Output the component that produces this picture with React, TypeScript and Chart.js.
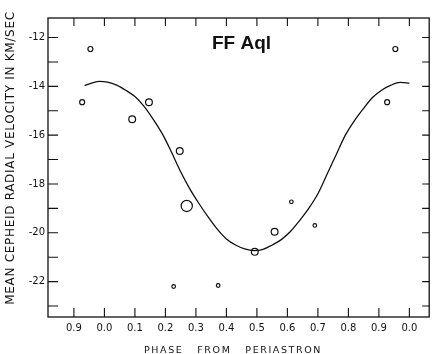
import React, { useEffect, useRef } from "react";
import { Chart, registerables } from "chart.js";

Chart.register(...registerables);

// ---- axis ranges and tick labels ----
const xRange = [-0.185, 1.065];
const yRange = [-23.45, -11.2];
const xTickValues = [-0.1, 0.0, 0.1, 0.2, 0.3, 0.4, 0.5, 0.6, 0.7, 0.8, 0.9, 1.0];
const xTickLabels = ["0.9", "0.0", "0.1", "0.2", "0.3", "0.4", "0.5", "0.6", "0.7", "0.8", "0.9", "0.0"];
const yTickValues = [-23, -22, -21, -20, -19, -18, -17, -16, -15, -14, -13, -12];
const yTickLabels = ["", "-22", "", "-20", "", "-18", "", "-16", "", "-14", "", "-12"];

// ---- observations (phase from periastron, mean cepheid radial velocity, weight class) ----
const obsPhase = [0.927, 0.954, 0.091, 0.146, 0.247, 0.270, 0.227, 0.373, 0.493, 0.558, 0.613, 0.690];
const obsVelocity = [-14.65, -12.47, -15.35, -14.65, -16.65, -18.9, -22.2, -22.16, -20.78, -19.96, -18.73, -19.7];
const obsWeight = [2, 2, 3, 3, 3, 4, 1, 1, 3, 3, 1, 1];

// ---- fitted orbit curve ----
const curvePhase = [-0.065, -0.04, -0.016, 0.01, 0.04, 0.07, 0.10, 0.13, 0.16, 0.19, 0.22, 0.25, 0.28, 0.31, 0.34, 0.37, 0.40, 0.43, 0.46, 0.49, 0.52, 0.55, 0.58, 0.61, 0.64, 0.67, 0.70, 0.73, 0.76, 0.79, 0.82, 0.85, 0.88, 0.91, 0.94, 0.97, 1.00];
const curveVelocity = [-13.97, -13.86, -13.80, -13.83, -13.95, -14.16, -14.42, -14.82, -15.35, -15.95, -16.70, -17.50, -18.20, -18.80, -19.35, -19.85, -20.25, -20.50, -20.66, -20.73, -20.68, -20.50, -20.28, -19.95, -19.50, -19.00, -18.40, -17.60, -16.80, -16.00, -15.40, -14.90, -14.45, -14.15, -13.95, -13.84, -13.87];

const starName = "FF Aql";
const xTitle = "PHASE   FROM   PERIASTRON";
const yTitle = "MEAN CEPHEID RADIAL VELOCITY IN KM/SEC";

const weightRadius: Record<number, number> = { 1: 1.8, 2: 2.5, 3: 3.4, 4: 5.6 };
const INK = "#111";

function findLabel(values: number[], labels: string[], v: number) {
  for (let k = 0; k < values.length; k++) if (Math.abs(values[k] - v) < 1e-6) return labels[k];
  return "";
}

const framePlugin = {
  id: "frameAndText",
  afterDraw(chart: any) {
    const { ctx, chartArea } = chart;
    const { left, right, top, bottom } = chartArea;
    const xs = chart.scales.x;
    const ys = chart.scales.y;
    ctx.save();
    ctx.strokeStyle = INK;
    ctx.lineWidth = 1.3;
    ctx.strokeRect(left, top, right - left, bottom - top);
    ctx.lineWidth = 1.1;
    ctx.beginPath();
    for (const t of xs.ticks) {
      const px = xs.getPixelForValue(t.value);
      ctx.moveTo(px, bottom);
      ctx.lineTo(px, bottom - 9);
      ctx.moveTo(px, top);
      ctx.lineTo(px, top + 8);
    }
    for (const t of ys.ticks) {
      const py = ys.getPixelForValue(t.value);
      ctx.moveTo(left, py);
      ctx.lineTo(left + 10, py);
      ctx.moveTo(right, py);
      ctx.lineTo(right - 7, py);
    }
    ctx.stroke();

    // star name
    ctx.fillStyle = INK;
    ctx.font = "bold 19px 'Liberation Sans', Arial, sans-serif";
    ctx.textAlign = "left";
    ctx.textBaseline = "alphabetic";
    ctx.fillText(starName, left + 164, top + 31);

    // x title
    (ctx as any).letterSpacing = "1.6px";
    ctx.font = "9.5px 'DejaVu Sans', sans-serif";
    ctx.textAlign = "center";
    ctx.fillText(xTitle, 233, 353);

    // y title
    (ctx as any).letterSpacing = "0.7px";
    ctx.font = "12px 'DejaVu Sans', sans-serif";
    ctx.translate(13.5, 158);
    ctx.rotate(-Math.PI / 2);
    ctx.textAlign = "center";
    ctx.fillText(yTitle, 0, 0);
    ctx.restore();
  },
};

export default function App() {
  const canvasRef = useRef<HTMLCanvasElement | null>(null);

  useEffect(() => {
    if (!canvasRef.current) return;

    const obsPoints: { x: number; y: number; w: number }[] = [];
    obsPhase.forEach((p, i) => {
      obsPoints.push({ x: p, y: obsVelocity[i], w: obsWeight[i] });
      if (p - 1 >= xRange[0]) obsPoints.push({ x: p - 1, y: obsVelocity[i], w: obsWeight[i] });
    });

    const tickFont = { family: "'DejaVu Sans', sans-serif", size: 10 };

    const chart = new Chart(canvasRef.current, {
      type: "line",
      data: {
        datasets: [
          {
            type: "line",
            label: "orbit",
            data: curvePhase.map((p, i) => ({ x: p, y: curveVelocity[i] })),
            borderColor: INK,
            borderWidth: 1.3,
            pointRadius: 0,
            cubicInterpolationMode: "monotone",
            fill: false,
          },
          {
            type: "scatter",
            label: "observations",
            data: obsPoints as any,
            showLine: false,
            pointRadius: (c: any) => weightRadius[(c.raw && c.raw.w) || 1],
            pointBackgroundColor: "#fff",
            pointBorderColor: INK,
            pointBorderWidth: 1.2,
          },
        ],
      },
      options: {
        responsive: false,
        animation: false,
        devicePixelRatio: 1,
        layout: { padding: { top: 18, right: 3, left: 0, bottom: 0 } },
        plugins: {
          legend: { display: false },
          tooltip: { enabled: false },
          title: { display: false },
        },
        scales: {
          x: {
            type: "linear",
            min: xRange[0],
            max: xRange[1],
            afterBuildTicks: (s: any) => {
              s.ticks = xTickValues.map((v) => ({ value: v }));
            },
            afterFit: (s: any) => {
              s.height = 37;
            },
            grid: { display: false, drawTicks: false },
            border: { display: false },
            ticks: {
              autoSkip: false,
              maxRotation: 0,
              padding: 5,
              color: INK,
              font: tickFont,
              callback: (v: any) => findLabel(xTickValues, xTickLabels, Number(v)),
            },
          },
          y: {
            type: "linear",
            min: yRange[0],
            max: yRange[1],
            afterBuildTicks: (s: any) => {
              s.ticks = yTickValues.map((v) => ({ value: v }));
            },
            afterFit: (s: any) => {
              s.width = 48;
            },
            grid: { display: false, drawTicks: false },
            border: { display: false },
            ticks: {
              autoSkip: false,
              padding: 3,
              color: INK,
              font: tickFont,
              callback: (v: any) => findLabel(yTickValues, yTickLabels, Number(v)),
            },
          },
        },
      },
      plugins: [framePlugin],
    } as any);

    return () => chart.destroy();
  }, []);

  return (
    <div style={{ position: "fixed", left: 0, top: 0, width: 436, height: 354, background: "#fff" }}>
      <canvas ref={canvasRef} width={436} height={354} style={{ display: "block" }} />
    </div>
  );
}
